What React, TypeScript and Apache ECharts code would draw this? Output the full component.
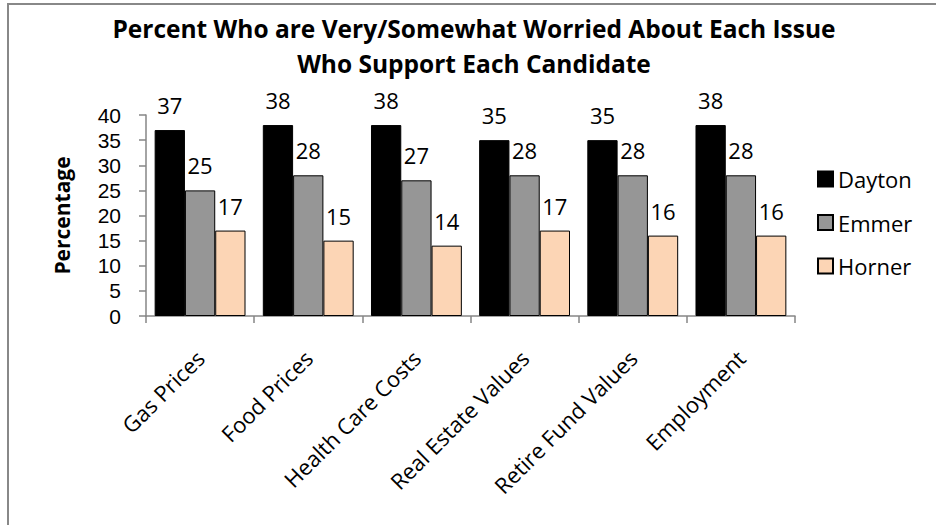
import { useEffect, useRef } from "react";
import * as echarts from "echarts";

// Issues polled and the share of each candidate's supporters worried about them
const issues = [
  "Gas Prices",
  "Food Prices",
  "Health Care Costs",
  "Real Estate Values",
  "Retire Fund Values",
  "Employment",
];
const candidates = ["Dayton", "Emmer", "Horner"];
const daytonValues = [37, 38, 38, 35, 35, 38];
const emmerValues = [25, 28, 27, 28, 28, 28];
const hornerValues = [17, 15, 14, 17, 16, 16];

// Value axis range and step
const yMin = 0;
const yMax = 40;
const yStep = 5;

const titleLines = [
  "Percent Who are Very/Somewhat Worried About Each Issue",
  "Who Support Each Candidate",
];
const yAxisTitle = "Percentage";

const FONT = "'Open Sans', 'Noto Sans', sans-serif";
// Compact face for the tightly stacked value-axis ticks
const TICK_FONT = "'Liberation Sans', Arial, sans-serif";
const AXIS_GRAY = "#868686";
const seriesColors = ["#000000", "#969696", "#FCD5B5"];
const seriesValues = [daytonValues, emmerValues, hornerValues];

export default function App() {
  const ref = useRef<HTMLDivElement>(null);

  useEffect(() => {
    if (!ref.current) return;
    const chart = echarts.init(ref.current, undefined, { renderer: "svg" });

    const series = candidates.map((name, i) => ({
      name,
      type: "bar" as const,
      data: seriesValues[i],
      barGap: "0%",
      barCategoryGap: "16%",
      itemStyle: {
        color: seriesColors[i],
        borderColor: "#000000",
        borderWidth: 1,
      },
      label: {
        show: true,
        position: "top" as const,
        distance: 14,
        color: "#000000",
        fontSize: 22,
        fontFamily: FONT,
      },
    }));

    chart.setOption({
      animation: false,
      backgroundColor: "#ffffff",
      title: {
        text: titleLines.join("\n"),
        left: 469,
        top: 6,
        textAlign: "center",
        textStyle: {
          fontFamily: FONT,
          fontSize: 24.5,
          fontWeight: "bold",
          color: "#000000",
          lineHeight: 35,
        },
      },
      legend: {
        data: candidates,
        orient: "vertical",
        left: 812,
        top: 161,
        itemWidth: 15,
        itemHeight: 15,
        itemGap: 17.5,
        icon: "rect",
        textStyle: {
          fontFamily: FONT,
          fontSize: 22,
          lineHeight: 26,
          color: "#000000",
        },
      },
      grid: {
        left: 146,
        top: 115,
        width: 649,
        height: 201,
        containLabel: false,
      },
      xAxis: {
        type: "category",
        data: issues,
        axisLine: { show: true, lineStyle: { color: AXIS_GRAY, width: 1.5 } },
        axisTick: {
          show: true,
          length: 7,
          interval: 0,
          lineStyle: { color: AXIS_GRAY, width: 1.5 },
        },
        axisLabel: {
          interval: 0,
          rotate: 45,
          margin: 38,
          color: "#000000",
          fontSize: 22,
          fontFamily: FONT,
        },
        splitLine: { show: false },
      },
      yAxis: {
        type: "value",
        min: yMin,
        max: yMax,
        interval: yStep,
        name: yAxisTitle,
        nameLocation: "middle",
        nameGap: 74,
        nameRotate: 90,
        nameTextStyle: {
          fontFamily: FONT,
          fontSize: 21,
          fontWeight: "bold",
          color: "#000000",
        },
        axisLine: { show: true, lineStyle: { color: AXIS_GRAY, width: 1.5 } },
        axisTick: {
          show: true,
          length: 7,
          lineStyle: { color: AXIS_GRAY, width: 1.5 },
        },
        axisLabel: {
          margin: 25,
          color: "#000000",
          fontSize: 21,
          lineHeight: 21,
          fontFamily: TICK_FONT,
        },
        splitLine: { show: false },
      },
      graphic: [
        {
          type: "rect",
          shape: { x: 8, y: 4, width: 1000, height: 1000 },
          style: { fill: "none", stroke: "#888888", lineWidth: 2 },
          silent: true,
        },
      ],
      series,
    });

    return () => chart.dispose();
  }, []);

  return (
    <div
      ref={ref}
      style={{ position: "fixed", left: 0, top: 0, width: 936, height: 525 }}
    />
  );
}
